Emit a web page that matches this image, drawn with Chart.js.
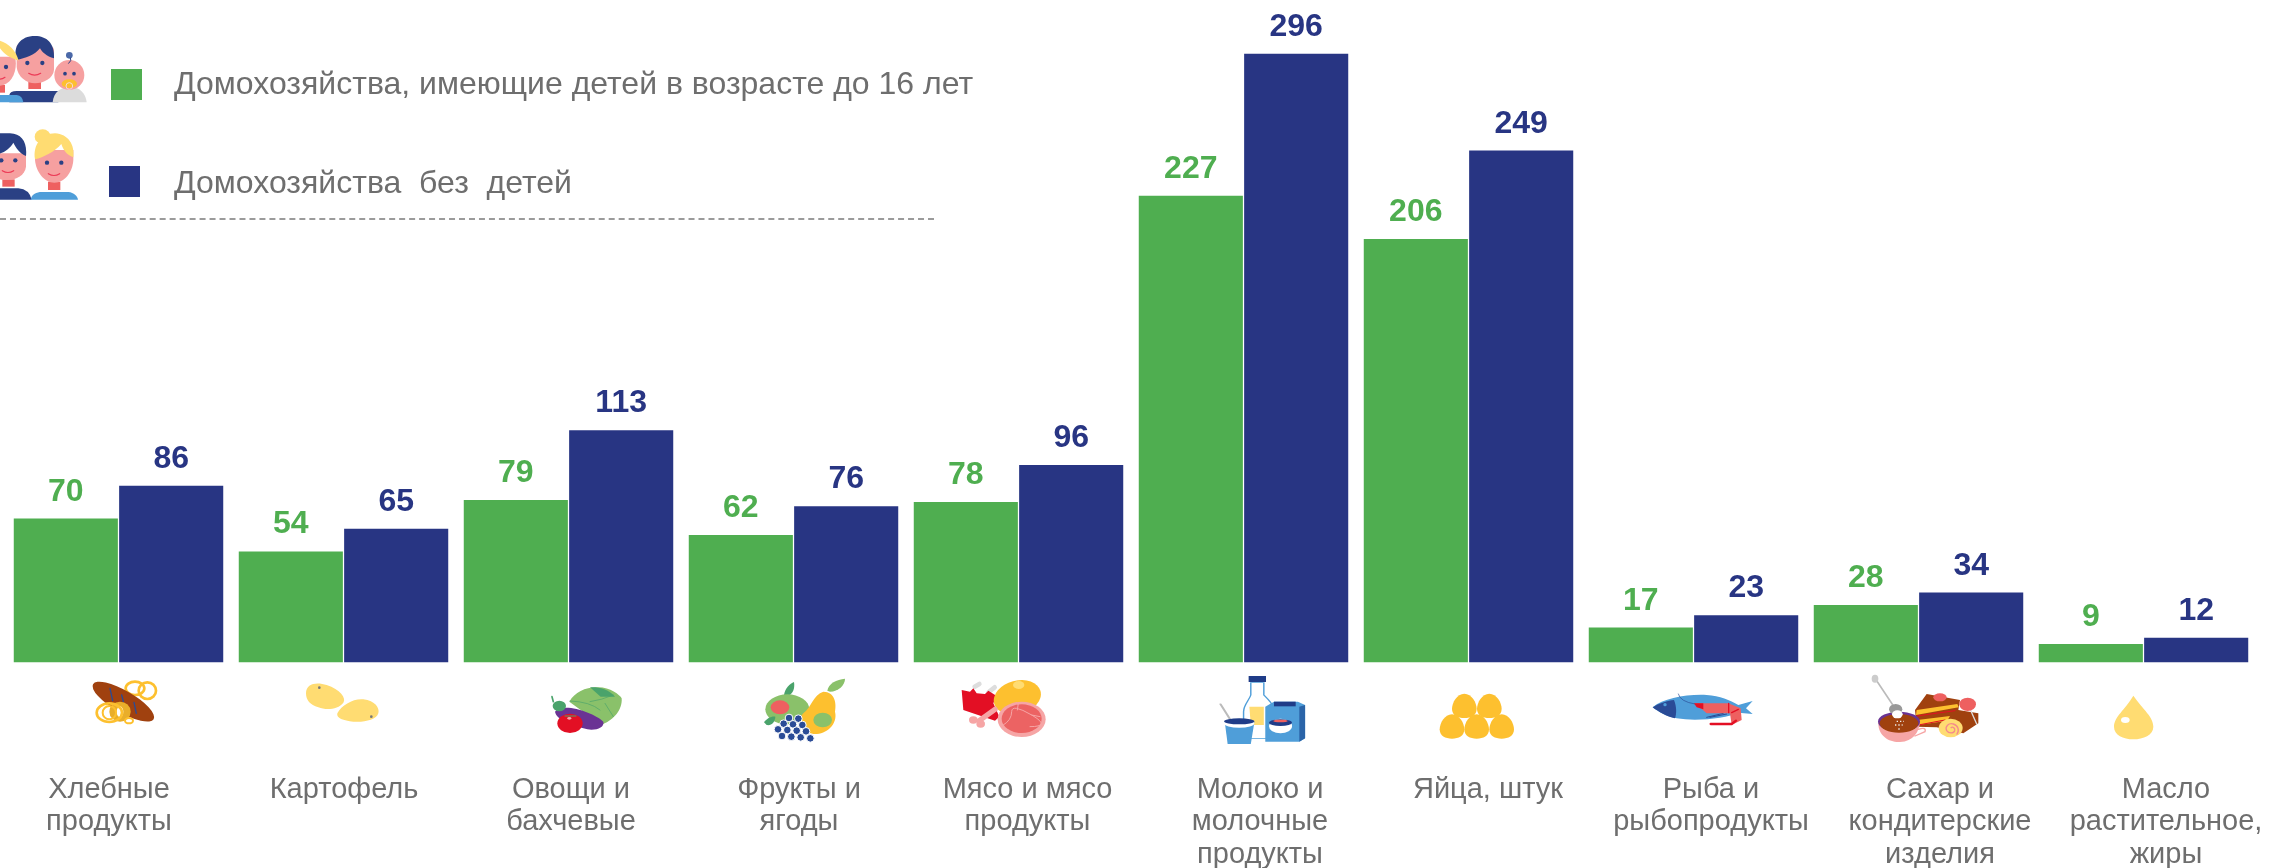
<!DOCTYPE html>
<html lang="ru"><head><meta charset="utf-8">
<script src="https://cdn.jsdelivr.net/npm/chart.js@4/dist/chart.umd.min.js"></script>
<style>
html,body{margin:0;padding:0;background:#fff;width:2270px;height:868px;overflow:hidden}
#stage{position:relative;width:2270px;height:868px}
#art,canvas{position:absolute;left:0;top:0}
.lg{position:absolute;left:174px;font:32px/36px "Liberation Sans",Arial,sans-serif;color:#6e6e6e;white-space:pre}
.sw{position:absolute;width:31px;height:31px}
#dash{position:absolute;left:0;top:218px;width:934px;height:0;border-top:2px dashed #9b9b9b}
</style></head><body>
<div id="stage">
<svg id="art" width="2270" height="868" xmlns="http://www.w3.org/2000/svg"></svg>
<canvas id="c" width="2270" height="868"></canvas>
<div id="dash"></div>
<div id="legend"></div>
</div>
<script>
const categories = [["Хлебные","продукты"],["Картофель"],["Овощи и","бахчевые"],["Фрукты и","ягоды"],["Мясо и мясо","продукты"],["Молоко и","молочные","продукты"],["Яйца, штук"],["Рыба и","рыбопродукты"],["Сахар и","кондитерские","изделия"],["Масло","растительное,","жиры"]];
const withChildren = [70,54,79,62,78,227,206,17,28,9];
const noChildren = [86,65,113,76,96,296,249,23,34,12];
const seriesNames = ["Домохозяйства, имеющие детей в возрасте до 16 лет","Домохозяйства  без  детей"];
const GREEN="#4fae50", NAVY="#283583";
const labelShift=[-9.5,0.5,2.5,5.5,9,16.5,19.5,17.5,21.5,22.5];

/* decorative pictograms, in 3x local units */
const Y="#fdc02f",LY="#ffdc72",BR="#a0410f",R="#e30f24",P="#ee6060",PK="#f6a5a5",B="#4f9ed9",N="#2a4b96",G="#8ac16a",DG="#4aa36b",V="#6a3394";
const el=(x,y,rx,ry,f,a)=>`<ellipse cx="${x}" cy="${y}" rx="${rx}" ry="${ry}" fill="${f}"${a?` transform="rotate(${a} ${x} ${y})"`:''}/>`;
const ring=(x,y,rx,ry,w)=>`<ellipse cx="${x}" cy="${y}" rx="${rx}" ry="${ry}" fill="none" stroke="${Y}" stroke-width="${w}"/>`;
const pa=(d,f)=>`<path d="${d}" fill="${f}"/>`;
const li=(d,c,w)=>`<path d="${d}" fill="none" stroke="${c}" stroke-width="${w}" stroke-linecap="round"/>`;
const egg=(x,y)=>`<path transform="translate(${x} ${y})" fill="${Y}" d="M0-37C22-37 37-10 37 8 37 28 20 36 0 36-20 36-37 28-37 8-37-10-22-37 0-37Z"/>`;
const icons=[
 {dx:-48.5,sx:1/3,svg:ring(195,55,28,20,8)+ring(232,62,26,25,8)+el(160,95,105,33,BR,30)+li("M120 55L128 92M155 75L160 95M192 97L199 130",N,4)+el(150,125,32,30,"#e9ae2a")+el(150,125,10,16,"#fff")+ring(118,128,38,28,8)+ring(118,128,20,20,6)+ring(177,152,12,8,6)},
 {dx:-273.5,sx:1/3,svg:pa("M708 70C708 40 740 35 770 45 810 58 830 85 820 98 805 118 770 122 745 112 720 105 708 90 708 70Z",LY)+pa("M802 130C815 105 850 85 880 88 915 92 930 115 925 130 920 150 880 158 850 155 820 152 798 145 802 130Z",LY)+el(748,53,4,4,"#777")+el(904,140,4,4,"#777")},
 {dx:-38.5,sx:1/3,svg:pa("M118 95C135 65 170 50 205 52 240 52 270 75 275 85 278 120 250 150 220 162L180 140Z",G)+pa("M180 52C200 50 235 55 255 80L212 80Z",DG)+li("M120 93Q180 95 210 120M180 95Q215 90 250 75M225 100L250 140",DG,2)+pa("M75 125C100 95 195 130 220 155 225 175 190 185 160 175 120 160 80 150 75 125Z",V)+el(88,108,20,16,DG)+li("M70 95L66 80",DG,5)+el(120,160,38,29,R)+li("M105 138L138 138",DG,3)+el(118,145,6,4,"#f5a8a8")},
 {dx:-263.5,sx:1/3,svg:pa("M762 75C765 55 780 40 792 36 795 55 790 72 770 80Z",DG)+el(772,118,66,45,G)+el(750,112,28,21,P)+pa("M702 157C710 145 725 138 736 140 735 155 725 168 710 165Z",DG)+pa("M880 65C915 65 920 100 915 125 925 165 885 195 850 192 810 185 800 150 820 130 845 110 850 75 880 65Z",Y)+el(878,150,28,22,G)+pa("M892 62C895 40 920 28 945 26 945 45 925 65 900 65Z",G)+[[777,144],[805,146],[761,161],[789,163],[817,165],[744,178],[772,180],[800,182],[828,184],[756,198],[784,200],[812,202],[841,205]].map(g=>`<circle cx="${g[0]}" cy="${g[1]}" r="11.5" fill="${N}" stroke="#fff" stroke-width="3"/>`).join('')},
 {dx:-78.5,sx:1/3,svg:li("M104 50L118 42M146 66L164 52","#ddd",14)+pa("M65 60L90 65 100 55 110 70 135 72 145 62 170 78 160 100 178 140 165 152 70 120Z",R)+el(232,82,72,50,Y,-15)+el(236,45,17,12,LY)+li("M118 152L165 118",PK,16)+el(100,150,13,11,PK)+el(122,162,13,11,PK)+el(245,148,72,53,PK)+el(245,146,60,43,"#ec6363")+li("M190 165Q215 150 215 125T275 135 270 170M235 100L232 120M300 140L275 135",PK,3)},
 {dx:-108.5,sx:.7238,sy:1/3,svg:pa("M160 128L178 128 178 165C185 180 192 195 192 215L192 295 150 295 150 215C150 195 158 180 160 165Z","#fff").replace('/>',` stroke="${B}" stroke-width="2"/>`)+`<rect x="157" y="108" width="24" height="18" fill="#1f3c88"/>`+pa("M158 200L178 200 178 255 160 255Z",LY)+pa("M180 200L192 185 225 185 235 195 235 295 227 305 180 305Z",B)+pa("M227 200L235 195 235 295 227 305Z","#2a64a8")+`<rect x="192" y="185" width="30" height="14" fill="#1f3c88"/>`+el(201,258,16,22,"#fff")+el(201,248,16,10,"#1f3c88")+el(201,243,10,4,P)+li("M118 192L132 240","#bbb",3)+pa("M124 245L165 245 160 312 128 312Z",B)+el(144,250,21,13,"#fff")+el(144,244,21,9,"#1f3c88")},
 {dx:-38.5,sx:1/3,svg:egg(103,108)+egg(178,108)+egg(66,170)+egg(140,170)+egg(215,170)},
 {dx:-263.5,sx:1/3,svg:pa("M668 112C700 85 770 72 830 75 870 78 900 90 925 105L968 93 948 115 968 132 925 128C890 145 800 155 740 145 710 140 685 125 668 112Z",B)+pa("M668 112C685 100 715 92 732 90 740 110 740 130 735 145 710 140 685 125 668 112Z",N)+el(705,104,5,5,B)+li("M745 72Q750 95 795 102",N,2)+li("M830 142L880 130M840 142L890 132",N,3)+pa("M795 100L895 100 932 115 935 150 905 165 900 130 830 130Z",P)+pa("M792 100L820 100 820 118 800 112Z",R)+li("M896 100L896 128M925 118L905 128",R,4)+li("M842 162L905 162 918 152",R,7)},
 {dx:-58.5,sx:1/3,svg:li("M45 25L105 115","#bbb",5)+el(45,26,10,12,"#ccc")+pa("M200 72L300 90 295 120 355 130 355 160 310 190 230 172 170 170 165 120Z",BR)+pa("M170 120L292 102 296 112 168 135Z",Y)+pa("M172 150L270 138 262 152 175 165Z",Y)+li("M170 138L285 122M175 165L255 150",R,3)+el(240,82,20,12,P)+li("M325 105L350 162","#ddd",4)+el(323,103,25,20,P)+el(272,174,36,28,LY)+`<path d="M272 174c6-6 14 0 12 8-3 9-18 9-24 0-6-12 6-24 20-20 14 4 20 20 10 32" fill="none" stroke="#f58b8b" stroke-width="4"/>`+pa("M55 160C55 200 90 218 120 216 160 214 178 185 180 155Z",PK)+li("M175 178Q200 170 195 185L165 198",PK,4)+el(117,155,63,30,V)+el(117,160,58,28,BR)+el(107,118,20,16,"#999")+el(112,133,16,12,"#fff")+li("M110 154L132 154M105 165L128 165M115 177L125 177","#eee",4).replace('stroke-linecap="round"','stroke-dasharray="4 6"')},
 {dx:-283.5,sx:1/3,svg:pa("M820 77C850 120 880 140 880 170 880 195 850 208 820 208 790 208 762 195 762 170 762 140 795 120 820 77Z",LY)+el(796,150,13,9,"#fff")}
];
const FACE="#f6a0a0",HN="#2a4084";
const smile=(x,y,w)=>li(`M${x-w} ${y}Q${x} ${y+11} ${x+w} ${y}`,"#ec3a56",3.5);
const people=
 /* family */
 pa("M28 247L28 225Q30 213 50 213L175 213 175 247Z",HN)+`<rect x="85" y="180" width="38" height="27" fill="${P}"/>`+pa("M50 80C50 58 160 58 162 90L162 150C160 175 130 190 105 190 80 190 52 170 50 140Z",FACE)+pa("M50 120C38 80 60 48 105 48 140 48 165 70 162 115 140 110 125 95 120 85 105 105 75 115 50 120Z",HN)+el(82,129,6.5,6.5,HN)+el(127,129,6.5,6.5,HN)+smile(104,160,18)+
 pa("M-20 247L-20 225 50 225Q68 228 70 247Z",B)+`<rect x="-5" y="195" width="20" height="23" fill="${P}"/>`+pa("M-30 110L45 110C55 150 35 195 0 197-30 195-30 150-30 110Z",FACE)+pa("M-30 60C5 55 45 80 56 122 30 115 10 100 0 85-15 95-30 90-30 90Z",LY)+el(18,141,6.5,6.5,HN)+smile(0,172,15)+
 pa("M158 247C160 215 185 200 210 200 238 200 258 220 260 247Z","#dcdcdc")+`<circle cx="208" cy="165" r="45" fill="${FACE}"/>`+`<circle cx="208" cy="106" r="10" fill="#4b69a8"/>`+li("M212 114Q216 122 206 130","#2a4084",3)+el(195,161,5.5,5.5,HN)+el(222,161,5.5,5.5,HN)+el(208,191,23,13,Y)+`<circle cx="208" cy="198" r="10" fill="none" stroke="#f7d9d9" stroke-width="3"/>`+
 /* couple */
 pa("M-30 539L-30 505 55 505Q88 508 95 539Z",HN)+`<rect x="7" y="478" width="37" height="22" fill="${P}"/>`+pa("M-30 400L78 400 78 440C75 465 50 480 20 480-15 480-30 460-30 440Z",FACE)+pa("M-30 408L-30 340 30 340C65 342 82 365 78 408 60 400 48 385 40 368 25 395-5 405-30 408Z",HN)+el(4,421,6.5,6.5,HN)+el(46,421,6.5,6.5,HN)+smile(24,452,17)+
 pa("M92 539C95 522 110 516 125 516L205 516C222 518 232 528 234 539Z",B)+`<rect x="144" y="485" width="37" height="25" fill="${P}"/>`+pa("M105 390L220 390 220 420C218 455 195 488 163 488 132 488 108 455 105 420Z",FACE)+el(128,350,24,22,LY)+pa("M105 418C98 375 125 340 165 340 205 342 225 375 220 412 200 405 190 390 184 372 165 395 130 412 105 418Z",LY)+el(141,428,6.5,6.5,HN)+el(184,428,6.5,6.5,HN)+smile(162,461,17);

const tickFont={family:'"Liberation Sans",Arial,sans-serif',size:29,lineHeight:1.12};
const CatProto=Chart.registry.getScale('category').prototype;

const valueLabels={id:'valueLabels',afterDatasetsDraw(ch){
  const c=ch.ctx;c.save();c.font='bold 32px "Liberation Sans",Arial,sans-serif';c.textAlign='center';c.textBaseline='alphabetic';
  ch.data.datasets.forEach((d,i)=>{c.fillStyle=d.backgroundColor;ch.getDatasetMeta(i).data.forEach((b,j)=>c.fillText(String(d.data[j]),b.x,b.y-18));});
  c.restore();
}};

const chart=new Chart(document.getElementById('c'),{
 type:'bar',
 data:{labels:categories,datasets:[
  {label:seriesNames[0],data:withChildren,backgroundColor:GREEN},
  {label:seriesNames[1],data:noChildren,backgroundColor:NAVY}]},
 options:{responsive:false,animation:false,
  layout:{padding:{left:6,right:14,top:0,bottom:0}},
  datasets:{bar:{categoryPercentage:.945,barPercentage:.988,borderWidth:0}},
  plugins:{legend:{display:false},tooltip:{enabled:false}},
  scales:{
   y:{display:false,min:0,max:322.2},
   x:{grid:{display:false},border:{display:false},
      afterFit(s){s.height=205.5;s.paddingLeft=0;s.paddingRight=0;s.getPixelForTick=i=>CatProto.getPixelForTick.call(s,i)+labelShift[i];},
      ticks:{color:'#6e6e6e',font:tickFont,padding:103,maxRotation:0,minRotation:0,autoSkip:false}}
  }},
 plugins:[valueLabels]});

const xs=chart.scales.x;
document.getElementById('art').innerHTML=
 `<g transform="translate(0 20) scale(${1/3})">${people}</g>`+
 icons.map((ic,i)=>`<g transform="translate(${xs.getPixelForValue(i)+ic.dx} ${ic.sy?640:670}) scale(${ic.sx} ${ic.sy||ic.sx})">${ic.svg}</g>`).join('');

const lg=document.getElementById('legend');
[[111,69,65],[109,166,164]].forEach((p,i)=>{
 const s=document.createElement('div');s.className='sw';s.style.cssText+=`left:${p[0]}px;top:${p[1]}px;background:${chart.data.datasets[i].backgroundColor}`;lg.appendChild(s);
 const t=document.createElement('div');t.className='lg';t.style.top=p[2]+'px';t.textContent=seriesNames[i];lg.appendChild(t);
});
</script>
</body></html>
